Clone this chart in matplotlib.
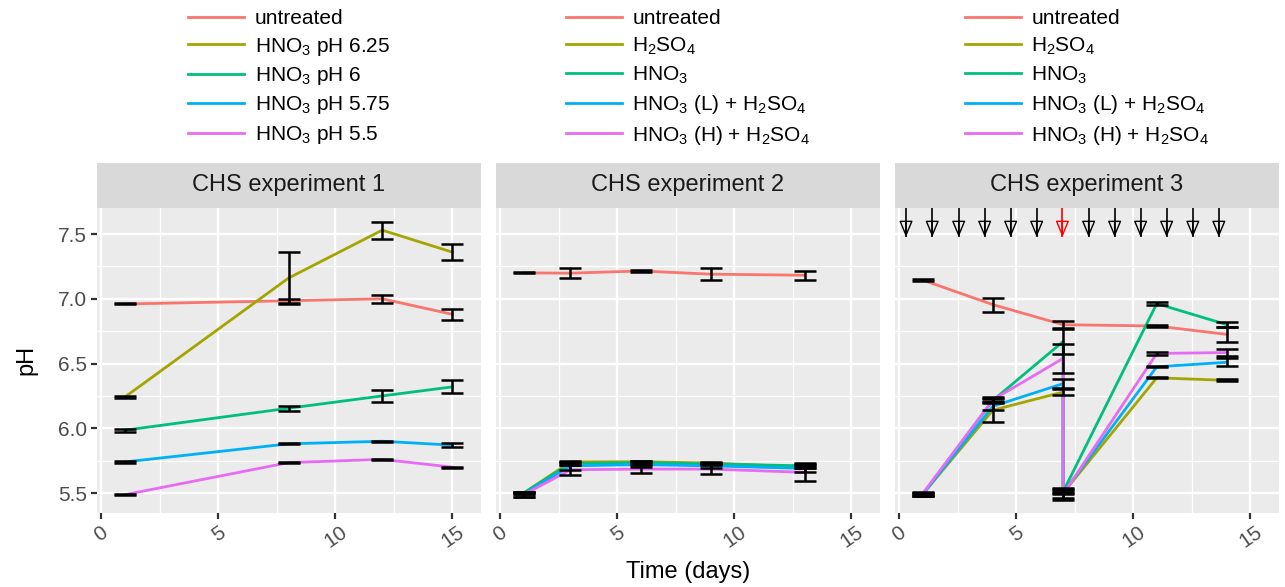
import matplotlib
matplotlib.use("Agg")
import matplotlib.pyplot as plt
from matplotlib.lines import Line2D

plt.rcParams['font.family'] = ['Liberation Sans', 'DejaVu Sans']
plt.rcParams['mathtext.fontset'] = 'custom'
plt.rcParams['mathtext.rm'] = 'Liberation Sans'
plt.rcParams['mathtext.it'] = 'Liberation Sans:italic'
plt.rcParams['mathtext.bf'] = 'Liberation Sans:bold'

# ---------------- data ----------------
colors = ['#F8766D', '#A3A500', '#00BF7D', '#00B0F6', '#E76BF3']

titles = ['CHS experiment 1', 'CHS experiment 2', 'CHS experiment 3']

labels1 = ['untreated', r'HNO$_3$ pH 6.25', r'HNO$_3$ pH 6', r'HNO$_3$ pH 5.75', r'HNO$_3$ pH 5.5']
labels23 = ['untreated', r'H$_2$SO$_4$', r'HNO$_3$', r'HNO$_3$ (L) + H$_2$SO$_4$', r'HNO$_3$ (H) + H$_2$SO$_4$']

# Experiment 1
days1 = [1, 8, 12, 15]
e1_untreated = [6.96, 6.985, 7.00, 6.88]
e1_untreated_sd = [0.004, 0.015, 0.03, 0.04]
e1_ph625 = [6.24, 7.16, 7.53, 7.36]
e1_ph625_sd = [0.008, 0.20, 0.065, 0.06]
e1_ph6 = [5.985, 6.155, 6.25, 6.32]
e1_ph6_sd = [0.01, 0.02, 0.045, 0.05]
e1_ph575 = [5.74, 5.88, 5.90, 5.87]
e1_ph575_sd = [0.005, 0.005, 0.005, 0.015]
e1_ph55 = [5.487, 5.735, 5.76, 5.70]
e1_ph55_sd = [0.004, 0.004, 0.003, 0.003]

# Experiment 2
days2 = [1, 3, 6, 9, 13]
e2_untreated = [7.20, 7.198, 7.215, 7.19, 7.182]
e2_untreated_sd = [0.004, 0.04, 0.005, 0.045, 0.035]
e2_h2so4 = [5.50, 5.74, 5.742, 5.732, 5.70]
e2_h2so4_sd = [0.01, 0.005, 0.005, 0.005, 0.01]
e2_hno3 = [5.50, 5.728, 5.735, 5.725, 5.71]
e2_hno3_sd = [0.01, 0.01, 0.01, 0.01, 0.02]
e2_low = [5.492, 5.71, 5.72, 5.71, 5.69]
e2_low_sd = [0.02, 0.03, 0.02, 0.02, 0.03]
e2_high = [5.487, 5.68, 5.685, 5.685, 5.66]
e2_high_sd = [0.02, 0.04, 0.03, 0.04, 0.065]

# Experiment 3 (acid series have a before/after value on day 7)
days3_untreated = [1, 4, 7, 11, 14]
days3 = [1, 4, 7, 7, 11, 14]
e3_untreated = [7.145, 6.955, 6.80, 6.79, 6.725]
e3_untreated_sd = [0.005, 0.055, 0.025, 0.005, 0.055]
e3_h2so4 = [5.49, 6.14, 6.28, 5.50, 6.39, 6.37]
e3_h2so4_sd = [0.01, 0.09, 0.02, 0.04, 0.004, 0.008]
e3_hno3 = [5.49, 6.215, 6.67, 5.51, 6.963, 6.80]
e3_hno3_sd = [0.01, 0.02, 0.10, 0.01, 0.013, 0.02]
e3_low = [5.49, 6.17, 6.345, 5.50, 6.475, 6.51]
e3_low_sd = [0.01, 0.03, 0.035, 0.005, 0.005, 0.03]
e3_high = [5.495, 6.22, 6.54, 5.49, 6.578, 6.585]
e3_high_sd = [0.01, 0.02, 0.11, 0.04, 0.012, 0.025]

# treatment arrows in experiment 3
arrow_days = [0.29, 1.41, 2.54, 3.65, 4.76, 5.87, 6.97, 8.09, 9.20, 10.31, 11.42, 12.54, 13.65]
arrow_colors = ['black'] * 6 + ['red'] + ['black'] * 6

yticks = [5.5, 6.0, 6.5, 7.0, 7.5]
xticks = [0, 5, 10, 15]

panels = [
    (labels1, [(days1, e1_untreated, e1_untreated_sd), (days1, e1_ph625, e1_ph625_sd),
               (days1, e1_ph6, e1_ph6_sd), (days1, e1_ph575, e1_ph575_sd), (days1, e1_ph55, e1_ph55_sd)]),
    (labels23, [(days2, e2_untreated, e2_untreated_sd), (days2, e2_h2so4, e2_h2so4_sd),
                (days2, e2_hno3, e2_hno3_sd), (days2, e2_low, e2_low_sd), (days2, e2_high, e2_high_sd)]),
    (labels23, [(days3_untreated, e3_untreated, e3_untreated_sd), (days3, e3_h2so4, e3_h2so4_sd),
                (days3, e3_hno3, e3_hno3_sd), (days3, e3_low, e3_low_sd), (days3, e3_high, e3_high_sd)]),
]

# ---------------- figure ----------------
W, H = 1285, 587
fig = plt.figure(figsize=(W / 100, H / 100), dpi=100)

panel_left_px = [97, 496, 895]
panel_w_px = 384
plot_top_px, plot_bot_px = 207.5, 513
strip_top_px = 163

for i, (labels, series) in enumerate(panels):
    lx = panel_left_px[i] / W
    ax = fig.add_axes([lx, 1 - plot_bot_px / H, panel_w_px / W, (plot_bot_px - plot_top_px) / H])
    ax.set_facecolor('#EBEBEB')
    for s in ax.spines.values():
        s.set_visible(False)
    ax.set_xlim(-0.18, 16.22)
    ax.set_ylim(5.346, 7.705)
    ax.set_xticks(xticks)
    ax.set_xticks([2.5, 7.5, 12.5], minor=True)
    ax.set_yticks(yticks)
    ax.set_yticks([5.75, 6.25, 6.75, 7.25], minor=True)
    ax.grid(which='major', color='white', lw=1.7)
    ax.grid(which='minor', color='white', lw=0.9)
    ax.set_axisbelow(True)
    ax.tick_params(axis='both', which='minor', length=0)
    ax.tick_params(axis='x', which='major', length=4, width=1.6, color='#333333',
                   labelsize=15, labelcolor='#4D4D4D', pad=3)
    for lab in ax.get_xticklabels():
        lab.set_rotation(35)
        lab.set_ha('center')
    if i == 0:
        ax.tick_params(axis='y', which='major', length=4, width=1.6, color='#333333',
                       labelsize=15, labelcolor='#4D4D4D', pad=3)
        ax.set_ylabel('pH', fontsize=17, color='black', labelpad=15)
    else:
        ax.tick_params(axis='y', which='major', length=0, labelleft=False)

    for (d, v, sd), c in zip(series, colors):
        ax.plot(d, v, color=c, lw=2.0, zorder=3)
    for (d, v, sd), c in zip(series, colors):
        ax.errorbar(d, v, yerr=sd, fmt='none', ecolor='black', elinewidth=1.8,
                    capsize=7.6, capthick=1.8, zorder=4)

    if i == 2:
        for xa, ca in zip(arrow_days, arrow_colors):
            ax.vlines(xa, 7.477, 7.705, color=ca, lw=1.2, zorder=5)
            ax.annotate('', xy=(xa, 7.477), xytext=(xa, 7.60),
                        arrowprops=dict(arrowstyle='-|>,head_length=1.0,head_width=0.42',
                                        fc='none', ec=ca, lw=1.0, shrinkA=0, shrinkB=0,
                                        mutation_scale=10), zorder=5)

    # strip
    sax = fig.add_axes([lx, 1 - plot_top_px / H, panel_w_px / W, (plot_top_px - strip_top_px) / H])
    sax.set_facecolor('#D9D9D9')
    sax.set_xticks([])
    sax.set_yticks([])
    for s in sax.spines.values():
        s.set_visible(False)
    sax.text(0.5, 0.5, titles[i], ha='center', va='center', fontsize=17, color='#1A1A1A',
             transform=sax.transAxes)

    # legend above panel
    handles = [Line2D([], [], color=c, lw=2.0) for c in colors]
    cx = (panel_left_px[i] + panel_w_px / 2) / W
    fig.legend(handles, labels, loc='upper center', bbox_to_anchor=(cx, 1 - 9 / H),
               frameon=False, fontsize=15, handlelength=2.7, handletextpad=0.5,
               labelspacing=0.36, borderpad=0, borderaxespad=0)

fig.text(688 / W, 1 - 572 / H, 'Time (days)', ha='center', va='center', fontsize=17, color='black')

fig.savefig('out.png', dpi=100)
